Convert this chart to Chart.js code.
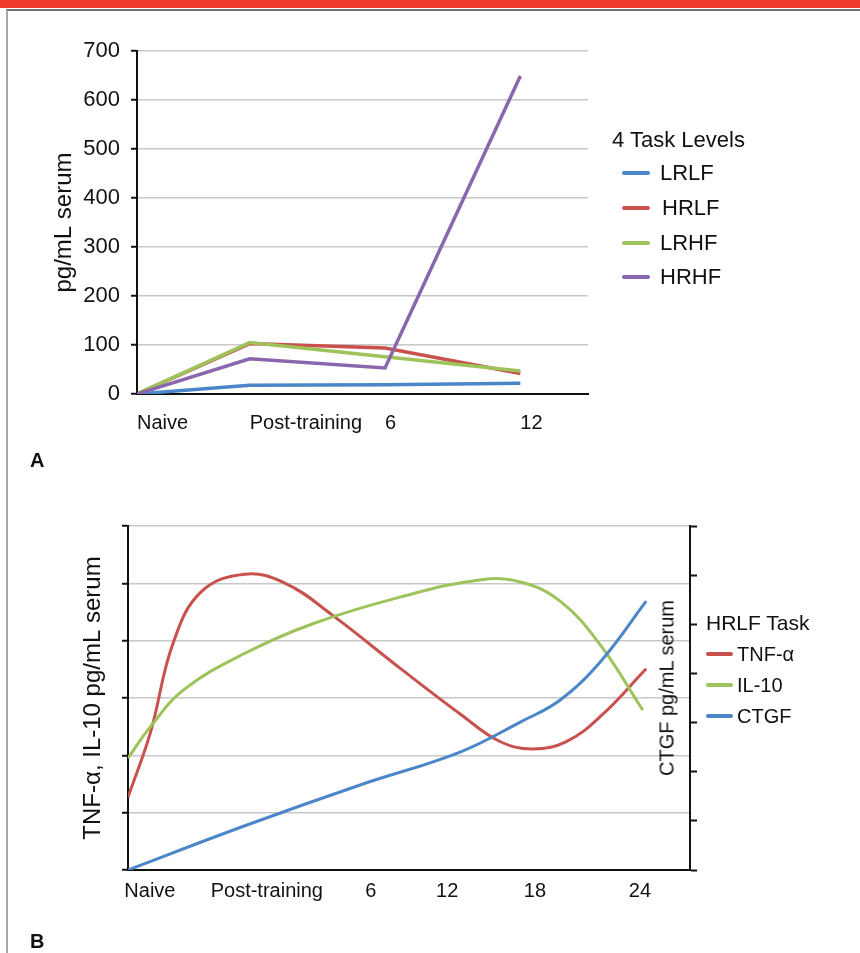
<!DOCTYPE html>
<html>
<head>
<meta charset="utf-8">
<script src="https://cdn.jsdelivr.net/npm/chart.js@4.4.1/dist/chart.umd.min.js"></script>
<style>
  body { margin: 0; background: #fff; font-family: "Liberation Sans", Arial, sans-serif; }
  #page { position: relative; width: 860px; height: 953px; overflow: hidden; }
  #topbar { position: absolute; left: 0; top: 0; width: 860px; height: 8px; background: #f13a2a; }
  #frame { position: absolute; left: 6px; top: 9px; width: 870px; height: 960px; border-left: 2px solid #a8a8a8; border-top: 2px solid #707070; }
  canvas { position: absolute; left: 0; }
  .txt { position: absolute; font-size: 20px; line-height: 24px; color: #111; white-space: nowrap; }
  .big { font-size: 22px; }
  .sw { position: absolute; height: 4px; border-radius: 2px; }
  .panel { position: absolute; font-size: 20px; line-height: 24px; font-weight: bold; color: #111; }
  #ctgfTitle { position: absolute; left: 667px; top: 688px; font-size: 20px; color: #111; white-space: nowrap;
               transform: translate(-50%, -50%) rotate(-90deg); }
</style>
</head>
<body>
<div id="page">
  <div id="topbar"></div>
  <div id="frame"></div>
  <canvas id="chartA" width="860" height="470" style="top:0px"></canvas>
  <canvas id="chartB" width="860" height="473" style="top:480px"></canvas>

  <div class="txt big" style="left:612px; top:128px">4 Task Levels</div>
  <div class="sw" style="left:622px; top:171px; width:28px; background:#4a86c8"></div>
  <div class="txt big" style="left:660px; top:161px">LRLF</div>
  <div class="sw" style="left:622px; top:206px; width:28px; background:#c8514d"></div>
  <div class="txt big" style="left:662px; top:196px">HRLF</div>
  <div class="sw" style="left:622px; top:241px; width:28px; background:#9dc35a"></div>
  <div class="txt big" style="left:660px; top:231px">LRHF</div>
  <div class="sw" style="left:622px; top:275px; width:28px; background:#8a66ad"></div>
  <div class="txt big" style="left:660px; top:265px">HRHF</div>
  <div class="panel" style="left:30px; top:448px">A</div>

  <div id="ctgfTitle">CTGF pg/mL serum</div>
  <div class="txt" style="left:706px; top:611px; font-size:21px">HRLF Task</div>
  <div class="sw" style="left:706px; top:652px; width:27px; background:#c8514d"></div>
  <div class="txt" style="left:737px; top:642px">TNF-α</div>
  <div class="sw" style="left:706px; top:683px; width:27px; background:#9dc35a"></div>
  <div class="txt" style="left:737px; top:673px">IL-10</div>
  <div class="sw" style="left:706px; top:714px; width:27px; background:#4a86c8"></div>
  <div class="txt" style="left:737px; top:704px">CTGF</div>
  <div class="panel" style="left:30px; top:929px">B</div>
</div>

<script>
// Panel A: serum levels for the 4 task levels (x in weeks, Naive placed before training)
const taskLabels = ["Naive", "Post-training", "6", "12"];
const taskWeeks = [-5, 0, 6, 12];
const lrlf = [0, 18, 19, 22];
const hrlf = [0, 103, 94, 42];
const lrhf = [0, 105, 76, 47];
const hrhf = [0, 72, 53, 649];

// Panel B: HRLF task, schematic curves (x in % of the time axis, no units on y)
const hrlfLabels = ["Naive", "Post-training", "6", "12", "18", "24"];
const hrlfLabelPos = [3.9, 24.7, 43.2, 56.8, 72.4, 91.1];
const tnfX = [0, 4, 8, 13, 20.8, 28, 36.3, 48.8, 59.4, 66, 71.9, 78, 84.3, 92.2];
const tnfY = [1.27, 2.4, 3.95, 4.85, 5.16, 5.0, 4.45, 3.49, 2.70, 2.25, 2.11, 2.24, 2.70, 3.51];
const il10X = [0, 4, 10, 20.8, 33, 48.4, 62.6, 70, 77, 84, 91.6];
const il10Y = [1.95, 2.5, 3.15, 3.78, 4.3, 4.76, 5.06, 5.02, 4.68, 3.93, 2.79];
const ctgfX = [0, 20.8, 41.3, 59.1, 69.8, 76.9, 84.3, 92.2];
const ctgfY = [0, 0.90, 1.73, 2.40, 3.01, 3.46, 4.27, 5.47];

const BLUE = "#4a86c8", RED = "#c8514d", GREEN = "#9dc35a", PURPLE = "#8a66ad";
const FAMILY = "'Liberation Sans', Arial, sans-serif";
const FONT = { family: FAMILY, size: 20 };
const GRID = "#c8c8c8";

function pts(xs, ys) {
  return xs.map(function (x, i) { return { x: x, y: ys[i] }; });
}

function gridColor(ctx) {
  return (ctx.tick && ctx.tick.value === 0) ? "rgba(0,0,0,0)" : GRID;
}

const ctxA = document.getElementById("chartA").getContext("2d");
new Chart(ctxA, {
  type: "line",
  data: {
    datasets: [
      { label: "LRLF", data: pts(taskWeeks, lrlf), borderColor: BLUE, order: 3 },
      { label: "HRLF", data: pts(taskWeeks, hrlf), borderColor: RED, order: 2 },
      { label: "LRHF", data: pts(taskWeeks, lrhf), borderColor: GREEN, order: 1 },
      { label: "HRHF", data: pts(taskWeeks, hrhf), borderColor: PURPLE, order: 0 },
    ],
  },
  options: {
    responsive: false,
    animation: false,
    layout: { padding: { left: 48, right: 272, top: 51, bottom: 0 } },
    plugins: { legend: { display: false }, tooltip: { enabled: false } },
    elements: {
      point: { radius: 0 },
      line: { borderWidth: 3.5, tension: 0 },
    },
    scales: {
      x: {
        type: "linear",
        min: -5,
        max: 15,
        afterBuildTicks: function (s) { s.ticks = taskWeeks.map(function (v) { return { value: v }; }); },
        afterFit: function (s) { s.height = 76; },
        grid: { display: true, drawOnChartArea: false, drawTicks: false },
        border: { color: "#111", width: 2 },
        ticks: {
          align: "start",
          padding: 17,
          color: "#111",
          font: FONT,
          maxRotation: 0,
          autoSkip: false,
          callback: function (v, i) { return taskLabels[i]; },
        },
      },
      y: {
        min: 0,
        max: 700,
        afterFit: function (s) { s.width = 89; },
        ticks: { stepSize: 100, padding: 11, color: "#111", font: { family: FAMILY, size: 22 } },
        grid: { color: gridColor, lineWidth: 1.5, tickColor: "#111", tickLength: 6, tickWidth: 2 },
        border: { color: "#111", width: 2 },
        title: { display: true, text: "pg/mL serum", color: "#111", font: { family: FAMILY, size: 24 }, padding: { top: 2, bottom: 4 } },
      },
    },
  },
});

const ctxB = document.getElementById("chartB").getContext("2d");
new Chart(ctxB, {
  type: "line",
  data: {
    datasets: [
      { label: "TNF-α", data: pts(tnfX, tnfY), borderColor: RED, yAxisID: "y", order: 2 },
      { label: "IL-10", data: pts(il10X, il10Y), borderColor: GREEN, yAxisID: "y", order: 1 },
      { label: "CTGF", data: pts(ctgfX, ctgfY), borderColor: BLUE, yAxisID: "y2", order: 0 },
    ],
  },
  options: {
    responsive: false,
    animation: false,
    layout: { padding: { left: 77, right: 150, top: 46, bottom: 0 } },
    plugins: { legend: { display: false }, tooltip: { enabled: false } },
    elements: {
      point: { radius: 0 },
      line: { borderWidth: 3, tension: 0.4 },
    },
    scales: {
      x: {
        type: "linear",
        min: 0,
        max: 100,
        afterBuildTicks: function (s) { s.ticks = hrlfLabelPos.map(function (v) { return { value: v }; }); },
        afterFit: function (s) { s.height = 83; },
        grid: { display: true, drawOnChartArea: false, drawTicks: false },
        border: { color: "#111", width: 2 },
        ticks: {
          padding: 9,
          color: "#111",
          font: FONT,
          maxRotation: 0,
          autoSkip: false,
          callback: function (v, i) { return hrlfLabels[i]; },
        },
      },
      y: {
        position: "left",
        min: 0,
        max: 6,
        afterFit: function (s) { s.width = 51; },
        ticks: { stepSize: 1, display: false },
        grid: { color: gridColor, lineWidth: 1.5, tickColor: "#111", tickLength: 6, tickWidth: 2 },
        border: { color: "#111", width: 2 },
        title: { display: true, text: "TNF-α, IL-10 pg/mL serum", color: "#111", font: { family: FAMILY, size: 24 }, padding: { top: 2, bottom: 4 } },
      },
      y2: {
        position: "right",
        min: 0,
        max: 7,
        afterFit: function (s) { s.width = 20; },
        ticks: { stepSize: 1, display: false },
        grid: { drawOnChartArea: false, tickColor: "#111", tickLength: 7, tickWidth: 2 },
        border: { color: "#111", width: 2 },
      },
    },
  },
});
</script>
</body>
</html>
